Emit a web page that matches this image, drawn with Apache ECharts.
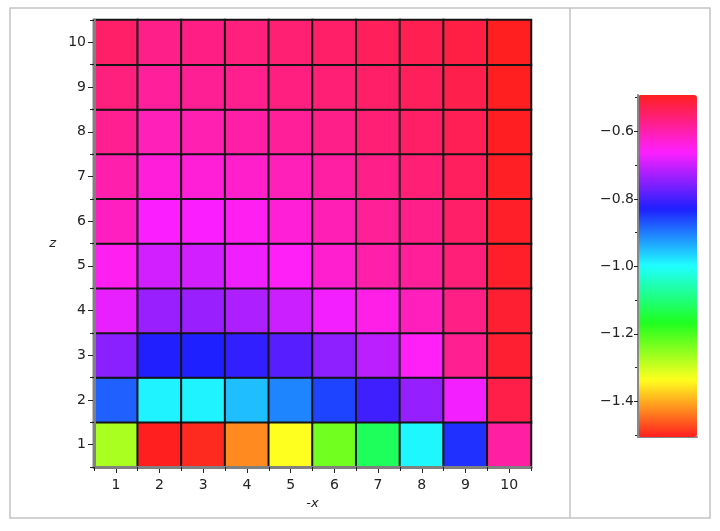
<!DOCTYPE html>
<html>
<head>
<meta charset="UTF-8">
<title>heatmap -x / z</title>
<script src="https://cdn.jsdelivr.net/npm/echarts@6/dist/echarts.min.js"></script>
</head>
<body style="margin:0;background:#fff">
<div id="main" style="width:720px;height:531px;"></div>
<script type="text/javascript">
// categories
var xCats = ['1', '2', '3', '4', '5', '6', '7', '8', '9', '10'];
var zCats = ['1', '2', '3', '4', '5', '6', '7', '8', '9', '10'];

// cell values, one array per z row (x = 1..10)
var row1  = [-1.272, -1.506, -1.498, -1.425, -1.336, -1.230, -1.123, -0.993, -0.843, -0.591];
var row2  = [-0.879, -0.990, -0.990, -0.951, -0.907, -0.858, -0.805, -0.741, -0.669, -0.524];
var row3  = [-0.749, -0.828, -0.831, -0.816, -0.788, -0.746, -0.712, -0.655, -0.577, -0.506];
var row4  = [-0.678, -0.738, -0.737, -0.723, -0.700, -0.669, -0.642, -0.611, -0.569, -0.507];
var row5  = [-0.650, -0.695, -0.696, -0.673, -0.655, -0.625, -0.595, -0.583, -0.560, -0.501];
var row6  = [-0.614, -0.664, -0.664, -0.650, -0.630, -0.605, -0.582, -0.571, -0.548, -0.499];
var row7  = [-0.599, -0.633, -0.630, -0.622, -0.608, -0.591, -0.571, -0.557, -0.540, -0.496];
var row8  = [-0.577, -0.608, -0.602, -0.594, -0.583, -0.571, -0.557, -0.546, -0.533, -0.495];
var row9  = [-0.562, -0.585, -0.580, -0.575, -0.566, -0.557, -0.547, -0.537, -0.526, -0.493];
var row10 = [-0.548, -0.571, -0.568, -0.562, -0.555, -0.547, -0.537, -0.529, -0.520, -0.493];

// colour bar range and ticks
var valMin = -1.506, valMax = -0.492;
var barTicks = [-1.4, -1.2, -1.0, -0.8, -0.6];
var barMinor = [-1.5, -1.3, -1.1, -0.9, -0.7, -0.5];
var hueColors = ['#ff1f1f', '#ffff1f', '#1fff1f', '#1fffff', '#1f1fff', '#ff1fff', '#ff1f1f'];

var rows = [row1, row2, row3, row4, row5, row6, row7, row8, row9, row10];
var cells = [];
for (var j = 0; j < rows.length; j++) {
    for (var i = 0; i < rows[j].length; i++) {
        cells.push([i, j, rows[j][i]]);
    }
}

var font = 'DejaVu Sans';
function minusFmt(v) {
    return (v < 0 ? '\u2212' : '') + Math.abs(v).toFixed(1);
}

var myChart = echarts.init(document.getElementById('main'));

var option = {
    animation: false,
    backgroundColor: '#fff',
    graphic: [
        { type: 'rect', shape: { x: 10, y: 8, width: 700, height: 510 },
          style: { fill: 'none', stroke: '#c4c4c4', lineWidth: 1.5 }, z: -1 },
        { type: 'line', shape: { x1: 570, y1: 8, x2: 570, y2: 518 },
          style: { stroke: '#c4c4c4', lineWidth: 1.5 }, z: -1 }
    ],
    grid: [
        { left: 94, top: 20, width: 437, height: 447, outerBoundsMode: 'none' },
        { left: 638, top: 95, width: 59, height: 342, outerBoundsMode: 'none' }
    ],
    xAxis: [
        {
            type: 'category', gridIndex: 0, data: xCats, position: 'bottom',
            axisLine: { show: true, lineStyle: { color: '#808080', width: 3 } },
            axisTick: { show: true, length: 4, lineStyle: { color: '#222', width: 1 } },
            axisLabel: { fontFamily: font, fontSize: 14, color: '#222', margin: 11 },
            splitLine: { show: false },
            name: '-x', nameLocation: 'middle', nameGap: 29,
            nameTextStyle: { fontFamily: font, fontSize: 13, fontStyle: 'italic', color: '#222' },
            z: 5
        },
        {
            type: 'category', gridIndex: 0, data: xCats, position: 'bottom',
            axisLine: { show: false },
            axisTick: { show: true, alignWithLabel: true, length: 6, lineStyle: { color: '#222', width: 1 } },
            axisLabel: { show: false },
            splitLine: { show: false }
        },
        {
            type: 'value', gridIndex: 1, min: 0, max: 1, position: 'bottom',
            axisLine: { show: true, lineStyle: { color: '#888', width: 2 } },
            axisTick: { show: false }, axisLabel: { show: false }, splitLine: { show: false }
        }
    ],
    yAxis: [
        {
            type: 'category', gridIndex: 0, data: zCats, position: 'left',
            axisLine: { show: true, lineStyle: { color: '#808080', width: 3 } },
            axisTick: { show: true, length: 4, lineStyle: { color: '#222', width: 1 } },
            axisLabel: { fontFamily: font, fontSize: 14, color: '#222', margin: 8 },
            splitLine: { show: false },
            name: 'z', nameLocation: 'middle', nameGap: 38, nameRotate: 0,
            nameTextStyle: { fontFamily: font, fontSize: 13, fontStyle: 'italic', color: '#222' },
            z: 5
        },
        {
            type: 'category', gridIndex: 0, data: zCats, position: 'left',
            axisLine: { show: false },
            axisTick: { show: true, alignWithLabel: true, length: 6, lineStyle: { color: '#222', width: 1 } },
            axisLabel: { show: false },
            splitLine: { show: false }
        },
        {
            type: 'value', gridIndex: 1, min: valMin, max: valMax, position: 'left',
            axisLine: { show: true, lineStyle: { color: '#888', width: 2 } },
            axisTick: { show: true, length: 4, customValues: barTicks, lineStyle: { color: '#222', width: 1 } },
            axisLabel: { show: true, customValues: barTicks, formatter: minusFmt,
                         fontFamily: font, fontSize: 14, color: '#222', margin: 4 },
            splitLine: { show: false },
            z: 5
        },
        {
            type: 'value', gridIndex: 1, min: valMin, max: valMax, position: 'left',
            axisLine: { show: false },
            axisTick: { show: true, length: 3, customValues: barMinor, lineStyle: { color: '#222', width: 1 } },
            axisLabel: { show: false },
            splitLine: { show: false }
        }
    ],
    visualMap: {
        type: 'continuous',
        min: valMin, max: valMax,
        dimension: 2,
        seriesIndex: 0,
        orient: 'vertical',
        left: 638, top: 95,
        itemWidth: 59, itemHeight: 342,
        padding: 0,
        calculable: false,
        hoverLink: false,
        realtime: false,
        text: null,
        showLabel: false,
        inRange: { color: hueColors }
    },
    series: [
        {
            type: 'heatmap',
            xAxisIndex: 0, yAxisIndex: 0,
            data: cells,
            itemStyle: { borderColor: '#151515', borderWidth: 2 },
            emphasis: { disabled: true },
            label: { show: false }
        }
    ]
};

myChart.setOption(option);
</script>
</body>
</html>
